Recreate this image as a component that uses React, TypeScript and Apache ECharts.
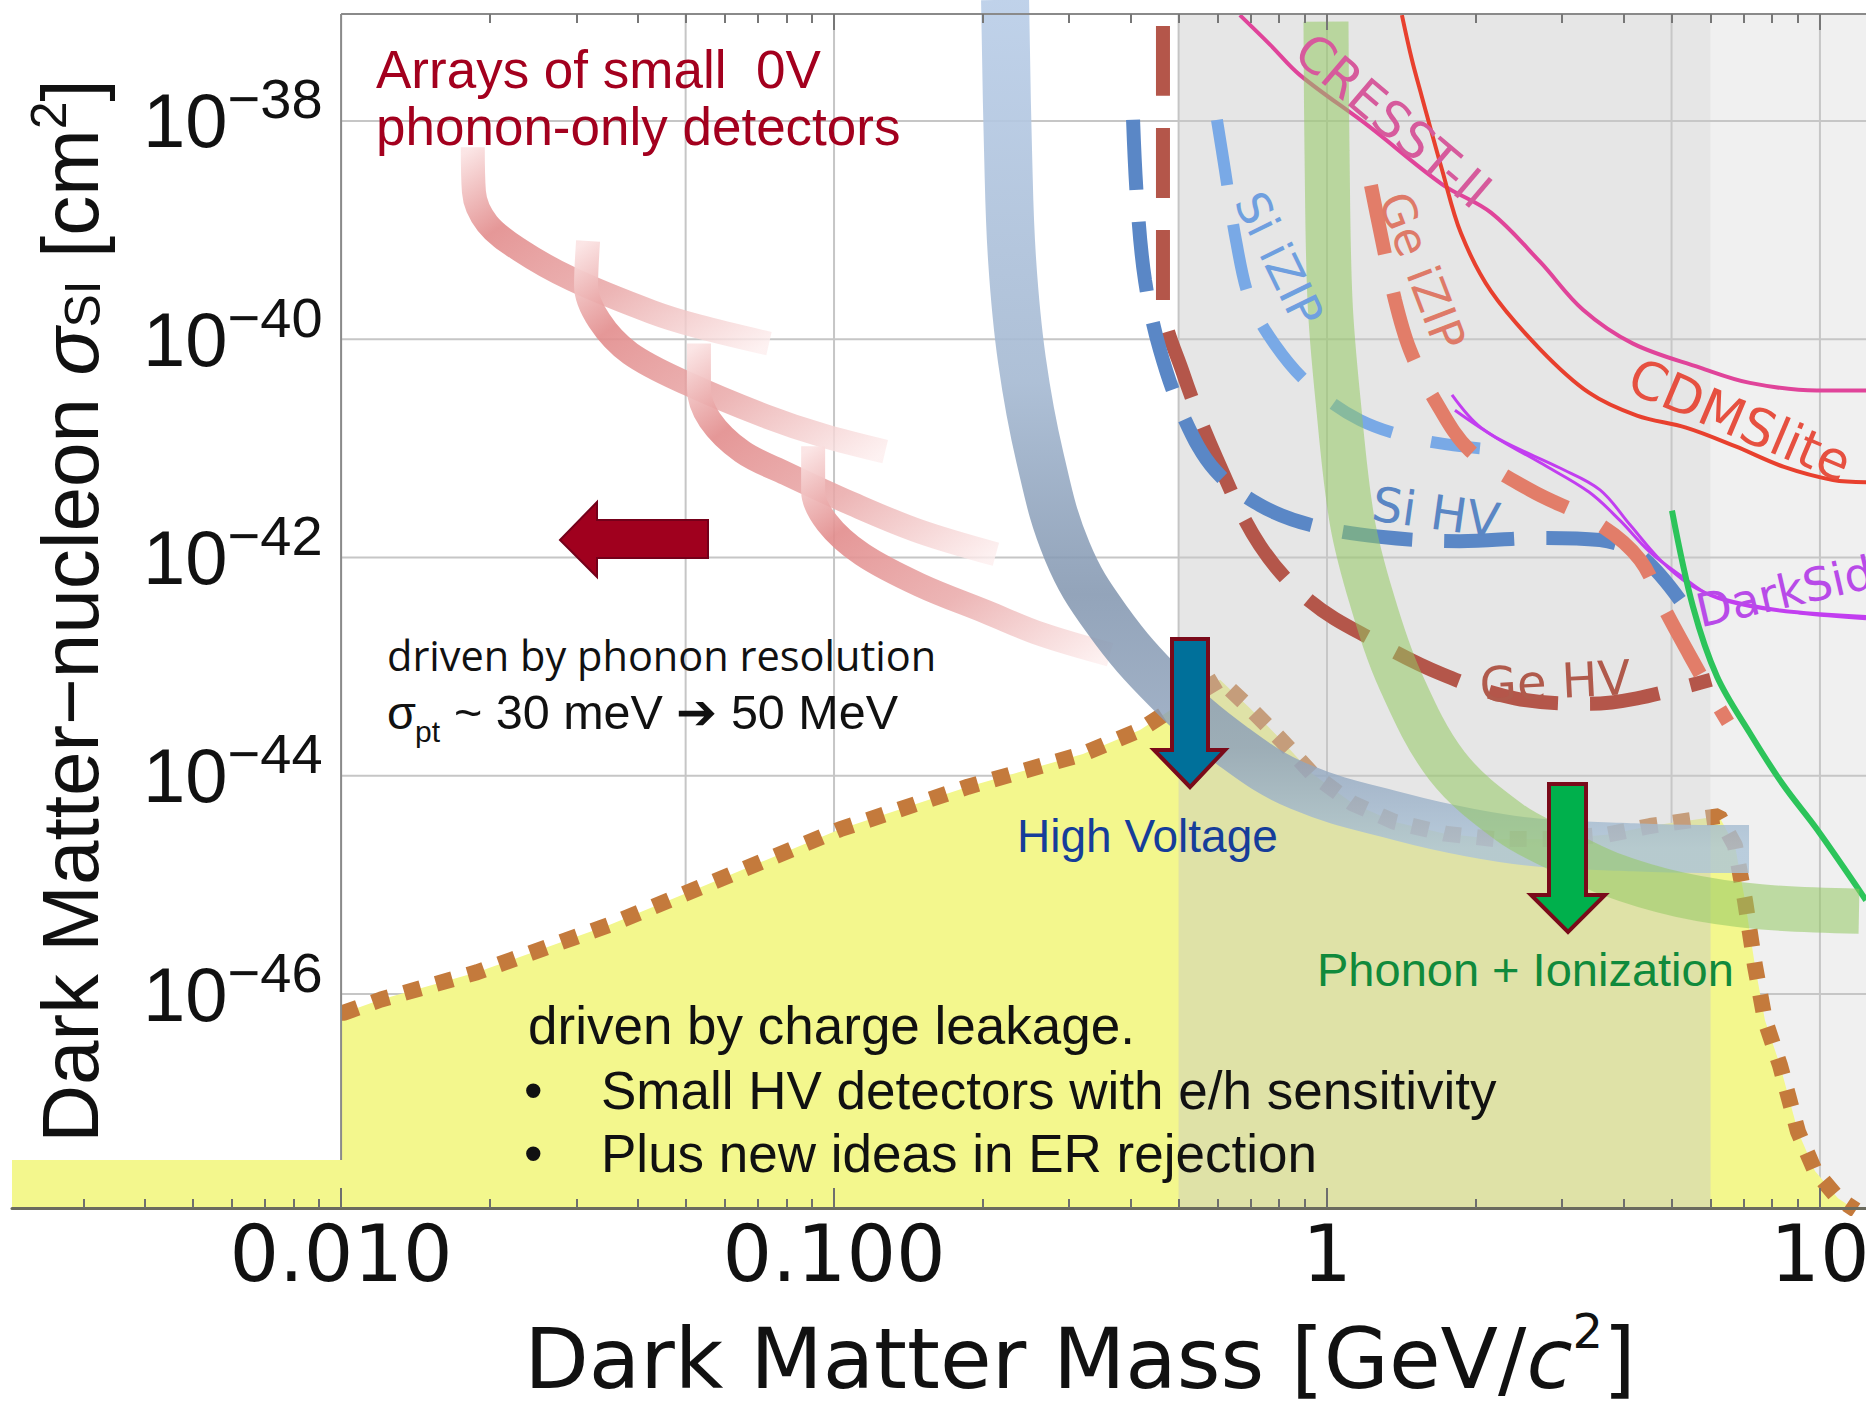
import React, { useEffect, useRef } from "react";
import * as echarts from "echarts";

// ---------------- axis extents ----------------
const MASS_RANGE_GEV = [0.00215, 12.4];
const LOG_SIGMA_RANGE = [-47.96, -37.02];

// ---------------- ticks, labels, grid ----------------
const X_MAJOR_TICKS = [0.01, 0.1, 1, 10];
const X_TICK_LABELS = ["0.010", "0.100", "1", "10"];
const X_MINOR_TICKS = [
  0.003, 0.004, 0.005, 0.006, 0.007, 0.008, 0.009,
  0.02, 0.03, 0.04, 0.05, 0.06, 0.07, 0.08, 0.09,
  0.2, 0.3, 0.4, 0.5, 0.6, 0.7, 0.8, 0.9,
  2, 3, 4, 5, 6, 7, 8, 9,
];
const Y_LABEL_EXPONENTS = [-46, -44, -42, -40, -38];
const GRID_MASS = [0.01, 0.05, 0.1, 0.5, 1, 5, 10];
const GRID_EXPONENTS = [-46, -44, -42, -40, -38];

// shaded mass ranges (GeV)
const SHADE_DARK = [0.5, 6];
const SHADE_LIGHT = [6, 12.4];
// slide label box that hides the plot left of 0.01 GeV
const MASK_MASS_EDGE = 0.01;
const MASK_LOG_SIGMA_BOTTOM = -47.52;

// ---------------- curves: [mass GeV, log10 sigma cm^2] ----------------
const PINK_A = [[0.0185, -38.24], [0.0186, -38.65], [0.0198, -38.94], [0.023, -39.18], [0.0294, -39.45], [0.0427, -39.75], [0.0528, -39.88], [0.0738, -40.04]];
const PINK_B = [[0.0317, -39.1], [0.0314, -39.51], [0.0334, -39.83], [0.0386, -40.13], [0.0506, -40.41], [0.0721, -40.7], [0.0946, -40.88], [0.127, -41.03]];
const PINK_C = [[0.0532, -40.04], [0.0532, -40.45], [0.056, -40.74], [0.0651, -41.03], [0.0799, -41.23], [0.109, -41.51], [0.149, -41.76], [0.213, -41.97]];
const PINK_D = [[0.0907, -40.98], [0.0907, -41.39], [0.0968, -41.68], [0.114, -41.97], [0.149, -42.25], [0.204, -42.5], [0.262, -42.7], [0.363, -42.89]];

const HIGH_VOLTAGE = [[0.2223, -36.89], [0.2254, -38.27], [0.2297, -39.27], [0.2405, -40.19], [0.2618, -41.09], [0.297, -41.94], [0.3579, -42.57], [0.4737, -43.21], [0.6444, -43.73], [0.8816, -44.1], [1.419, -44.38], [1.95, -44.52], [2.654, -44.61], [3.929, -44.65], [5.71, -44.67], [7.18, -44.67]];
const PHONON_IONIZATION = [[0.9953, -37.09], [1.0, -38.27], [1.014, -39.64], [1.053, -40.56], [1.124, -41.66], [1.234, -42.39], [1.406, -43.12], [1.752, -43.91], [2.351, -44.43], [2.969, -44.68], [3.75, -44.9], [5.2, -45.09], [7.556, -45.2], [12.0, -45.24]];

const CHARGE_LEAKAGE_LIMIT = [[0.00215, -46.33], [0.01014, -46.17], [0.01205, -46.05], [0.01887, -45.8], [0.0353, -45.36], [0.055, -45.0], [0.1028, -44.49], [0.187, -44.1], [0.3199, -43.8], [0.4175, -43.58], [0.5032, -43.34], [0.6067, -43.12], [0.6979, -43.38], [0.8067, -43.67], [0.9324, -43.98], [1.124, -44.25], [1.367, -44.42], [1.735, -44.53], [2.192, -44.58], [2.834, -44.58], [3.698, -44.54], [4.521, -44.46], [6.24, -44.37], [6.725, -44.64], [7.045, -45.14], [7.382, -45.74], [7.735, -46.24], [8.295, -46.65], [9.024, -47.26], [9.77, -47.62], [10.88, -47.87], [11.83, -47.98]];

const GE_HV = [[0.4648, -37.13], [0.4648, -39.64], [0.5104, -40.31], [0.5981, -41.1], [0.7312, -41.89], [0.9236, -42.4], [1.245, -42.76], [1.712, -43.07], [2.406, -43.29], [3.4, -43.34], [4.254, -43.29], [6.009, -43.12]];
const SI_HV = [[0.4042, -37.99], [0.4118, -38.72], [0.4274, -39.46], [0.4584, -40.1], [0.5152, -40.74], [0.5925, -41.2], [0.7312, -41.52], [0.9236, -41.7], [1.281, -41.81], [1.861, -41.85], [2.704, -41.82], [3.579, -41.84], [4.314, -41.98], [5.2, -42.39]];
const SI_IZIP = [[0.5981, -37.99], [0.6209, -38.45], [0.6534, -39.09], [0.6979, -39.64], [0.7843, -40.05], [0.9236, -40.42], [1.167, -40.74], [1.544, -40.92], [2.043, -41.0]];
const GE_IZIP = [[1.228, -38.59], [1.281, -39.0], [1.374, -39.64], [1.474, -40.1], [1.656, -40.56], [1.95, -41.02], [2.581, -41.38], [3.579, -41.7], [4.314, -42.02], [4.85, -42.48], [5.449, -42.9], [6.124, -43.31], [6.508, -43.51]];
const CRESST_II = [[0.6657, -37.03], [0.7663, -37.3], [0.8816, -37.58], [1.217, -38.05], [1.712, -38.58], [2.151, -38.84], [2.704, -39.29], [3.306, -39.73], [4.176, -40.04], [5.71, -40.26], [7.211, -40.4], [9.861, -40.47], [12.4, -40.47]];
const CDMSLITE = [[1.419, -37.03], [1.487, -37.44], [1.558, -37.78], [1.712, -38.45], [1.87, -39.03], [2.151, -39.56], [2.704, -40.09], [3.4, -40.49], [4.254, -40.7], [5.35, -40.81], [6.725, -40.98], [8.453, -41.17], [10.63, -41.29], [12.4, -41.31]];
const DARKSIDE_A = [[1.793, -40.51], [2.053, -40.81], [2.704, -41.13], [3.4, -41.4], [3.929, -41.66], [4.521, -41.95], [5.274, -42.18], [6.009, -42.35], [7.211, -42.45], [9.108, -42.51], [12.4, -42.56]];
const DARKSIDE_B = [[1.818, -40.65], [2.243, -40.92], [2.969, -41.18], [3.579, -41.38], [4.118, -41.7], [4.737, -42.02], [5.449, -42.25], [6.269, -42.37], [8.295, -42.48], [12.4, -42.54]];
const GREEN_THIN = [[5.01, -41.57], [5.526, -42.45], [6.182, -43.09], [7.211, -43.61], [8.413, -44.08], [9.861, -44.49], [12.4, -45.14]];

// ---------------- helpers ----------------
const lx = (m: number) => Math.log10(m);
const toXY = (pts: number[][]) => pts.map(([m, s]) => [lx(m), s]);
const X_MIN = lx(MASS_RANGE_GEV[0]);
const X_MAX = lx(MASS_RANGE_GEV[1]);

function lineSeries(name: string, pts: number[][], lineStyle: any, z: number, extra: any = {}) {
  return {
    type: "line",
    name,
    data: toXY(pts),
    xAxisIndex: 0,
    yAxisIndex: 0,
    showSymbol: false,
    symbol: "none",
    smooth: 0.35,
    silent: true,
    z,
    lineStyle,
    ...extra,
  };
}

function rectSeries(name: string, m0: number, m1: number, s0: number, s1: number, fill: string, z: number, edgeLine = false) {
  return {
    type: "custom",
    name,
    z,
    silent: true,
    xAxisIndex: 0,
    yAxisIndex: 0,
    data: [[lx(m0), s0, lx(m1), s1]],
    encode: { x: [0, 2], y: [1, 3] },
    renderItem: (_p: any, api: any) => {
      const a = api.coord([api.value(0), api.value(3)]);
      const b = api.coord([api.value(2), api.value(1)]);
      const children: any[] = [
        { type: "rect", shape: { x: a[0], y: a[1], width: b[0] - a[0], height: b[1] - a[1] }, style: { fill } },
      ];
      if (edgeLine) {
        const top = api.coord([api.value(2), LOG_SIGMA_RANGE[1]]);
        children.push({
          type: "line",
          shape: { x1: b[0], y1: top[1], x2: b[0], y2: b[1] },
          style: { stroke: "#8a8a8a", lineWidth: 2 },
        });
      }
      return { type: "group", children };
    },
  };
}

function gridSeries() {
  const data: number[][] = [];
  GRID_MASS.forEach((m) => data.push([lx(m), LOG_SIGMA_RANGE[0], 0]));
  GRID_EXPONENTS.forEach((e) => data.push([lx(GRID_MASS[0]), e, 1]));
  return {
    type: "custom",
    name: "grid",
    z: 2,
    silent: true,
    data,
    encode: { x: 0, y: 1 },
    renderItem: (_p: any, api: any) => {
      const vertical = api.value(2) === 0;
      const p0 = api.coord([api.value(0), api.value(1)]);
      const p1 = vertical
        ? api.coord([api.value(0), LOG_SIGMA_RANGE[1]])
        : api.coord([X_MAX, api.value(1)]);
      return {
        type: "line",
        shape: { x1: p0[0], y1: p0[1], x2: p1[0], y2: p1[1] },
        style: { stroke: "#c6c6c6", lineWidth: 2 },
      };
    },
  };
}

const pinkGradient = () =>
  new echarts.graphic.LinearGradient(0, 0, 1, 1, [
    { offset: 0, color: "rgba(251,228,228,0.95)" },
    { offset: 0.25, color: "rgba(226,140,140,0.9)" },
    { offset: 0.6, color: "rgba(233,168,168,0.85)" },
    { offset: 1, color: "rgba(253,238,238,0.8)" },
  ]);

const blueGradient = () =>
  new echarts.graphic.LinearGradient(0, 0, 0, 1, [
    { offset: 0, color: "rgba(186,206,232,0.92)" },
    { offset: 0.45, color: "rgba(165,185,210,0.9)" },
    { offset: 0.7, color: "rgba(128,148,174,0.85)" },
    { offset: 0.88, color: "rgba(140,160,186,0.8)" },
    { offset: 1, color: "rgba(172,196,216,0.8)" },
  ]);

// ---------------- graphics (annotations) ----------------
function text(t: string, x: number, y: number, size: number, color: string, family: string, extra: any = {}, rotationDeg = 0, align = "left") {
  return {
    type: "text",
    x,
    y,
    z: 100,
    silent: true,
    rotation: (rotationDeg * Math.PI) / 180,
    style: {
      text: t,
      fill: color,
      fontSize: size,
      fontFamily: family,
      align,
      textAlign: align,
      verticalAlign: "middle",
      textVerticalAlign: "middle",
      ...extra,
    },
  };
}

function arrow(points: number[][], fill: string, stroke: string, lw: number) {
  return { type: "polygon", z: 100, silent: true, shape: { points }, style: { fill, stroke, lineWidth: lw } };
}

function buildOption() {
  const xBase = { type: "value", min: X_MIN, max: X_MAX, splitLine: { show: false }, z: 8 };
  const major = X_MAJOR_TICKS.map(lx);
  const minor = X_MINOR_TICKS.map(lx);
  const labelFor = (v: number) => {
    const i = X_MAJOR_TICKS.findIndex((m) => Math.abs(lx(m) - v) < 1e-6);
    return i >= 0 ? X_TICK_LABELS[i] : "";
  };
  const AR = "Liberation Sans";
  const DJ = "DejaVu Sans";

  return {
    animation: false,
    backgroundColor: "#ffffff",
    grid: { left: 12, top: 14, width: 1854, height: 1194, containLabel: false, outerBoundsMode: "none", show: false },
    xAxis: [
      {
        ...xBase,
        position: "bottom",
        axisLine: { show: true, lineStyle: { color: "#6a6a5e", width: 3 } },
        axisTick: { show: true, inside: true, length: 20, customValues: major, lineStyle: { color: "#6e6e6e", width: 2 } },
        axisLabel: {
          show: true,
          customValues: major,
          formatter: (v: number) => labelFor(v),
          fontSize: 78,
          fontFamily: DJ,
          color: "#111",
          margin: 7,
        },
        name: "{n|Dark Matter Mass [GeV/}{i|c}{sup|2}{n|]}",
        nameLocation: "middle",
        nameGap: 99,
        nameTextStyle: {
          padding: [0, 0, 0, 282],
          fontSize: 84,
          fontFamily: DJ,
          color: "#111",
          rich: {
            n: { fontSize: 84, fontFamily: DJ, color: "#111" },
            i: { fontSize: 84, fontFamily: DJ, fontStyle: "italic", color: "#111" },
            sup: { fontSize: 48, fontFamily: DJ, color: "#111", padding: [0, 0, 56, 0] },
          },
        },
      },
      {
        ...xBase,
        position: "bottom",
        axisLine: { show: false },
        axisTick: { show: true, inside: true, length: 9, customValues: minor, lineStyle: { color: "#6e6e6e", width: 2 } },
        axisLabel: { show: false },
      },
      {
        ...xBase,
        position: "top",
        axisLine: { show: true, lineStyle: { color: "#8a8a8a", width: 2 } },
        axisTick: { show: true, inside: true, length: 16, customValues: major, lineStyle: { color: "#777", width: 2 } },
        axisLabel: { show: false },
      },
      {
        ...xBase,
        position: "top",
        axisLine: { show: false },
        axisTick: { show: true, inside: true, length: 9, customValues: minor, lineStyle: { color: "#777", width: 2 } },
        axisLabel: { show: false },
      },
    ],
    yAxis: {
      type: "value",
      min: LOG_SIGMA_RANGE[0],
      max: LOG_SIGMA_RANGE[1],
      position: "left",
      z: 10,
      axisLine: { show: false },
      axisTick: { show: false },
      splitLine: { show: false },
      axisLabel: {
        inside: true,
        margin: 131,
        customValues: Y_LABEL_EXPONENTS,
        formatter: (v: number) => `{b|10}{s|\u2212${Math.abs(Math.round(v))}}`,
        rich: {
          b: { fontSize: 76, fontFamily: AR, color: "#111" },
          s: { fontSize: 56, fontFamily: AR, color: "#111", padding: [0, 0, 44, 0] },
        },
      },
      name: "{n|Dark Matter\u2212nucleon }{i|\u03c3}{sub|SI}{n| [cm}{sup|2}{n|]}",
      nameLocation: "middle",
      nameRotate: 90,
      nameGap: -104,
      nameTextStyle: {
        fontSize: 80,
        fontFamily: AR,
        color: "#111",
        rich: {
          n: { fontSize: 80, fontFamily: AR, color: "#111" },
          i: { fontSize: 80, fontFamily: AR, fontStyle: "italic", color: "#111" },
          sub: { fontSize: 50, fontFamily: AR, color: "#111", padding: [26, 0, 0, 0] },
          sup: { fontSize: 50, fontFamily: AR, color: "#111", padding: [0, 0, 42, 0] },
        },
      },
    },
    series: [
      rectSeries("beyond 6 GeV", SHADE_LIGHT[0], SHADE_LIGHT[1], LOG_SIGMA_RANGE[0], LOG_SIGMA_RANGE[1], "#f0f0f0", 1),
      gridSeries(),
      lineSeries("charge leakage limit", CHARGE_LEAKAGE_LIMIT, { color: "#c47a3c", width: 16, type: [17, 16], cap: "butt" }, 3, {
        smooth: false,
        areaStyle: { color: "#f3f78d", origin: "start", opacity: 1 },
      }),
      rectSeries("0.5-6 GeV", SHADE_DARK[0], SHADE_DARK[1], LOG_SIGMA_RANGE[0], LOG_SIGMA_RANGE[1], "rgba(200,200,200,0.45)", 4),
      lineSeries("Ge HV", GE_HV, { color: "#b4564a", width: 14, type: [70, 32], cap: "butt" }, 5),
      lineSeries("Si HV", SI_HV, { color: "#5a87c6", width: 14, type: [70, 32], cap: "butt" }, 5),
      lineSeries("Si iZIP", SI_IZIP, { color: "#79a9e6", width: 12, type: [66, 40], cap: "butt" }, 5),
      lineSeries("Ge iZIP", GE_IZIP, { color: "#e27d69", width: 14, type: [70, 40], cap: "butt" }, 5),
      lineSeries("CRESST-II", CRESST_II, { color: "#e0449a", width: 4 }, 5),
      lineSeries("CDMSlite", CDMSLITE, { color: "#e8402e", width: 4 }, 5),
      lineSeries("DarkSide A", DARKSIDE_A, { color: "#c23ef0", width: 3 }, 5),
      lineSeries("DarkSide B", DARKSIDE_B, { color: "#c23ef0", width: 3 }, 5),
      lineSeries("LUX-like", GREEN_THIN, { color: "#2cc45a", width: 6 }, 5),
      lineSeries("0V array 1", PINK_A, { color: pinkGradient(), width: 24, cap: "butt" }, 6),
      lineSeries("0V array 2", PINK_B, { color: pinkGradient(), width: 24, cap: "butt" }, 6),
      lineSeries("0V array 3", PINK_C, { color: pinkGradient(), width: 24, cap: "butt" }, 6),
      lineSeries("0V array 4", PINK_D, { color: pinkGradient(), width: 24, cap: "butt" }, 6),
      lineSeries("High Voltage", HIGH_VOLTAGE, { color: blueGradient(), width: 48, cap: "butt" }, 7, { clip: false, smooth: 0.4 }),
      lineSeries("Phonon + Ionization", PHONON_IONIZATION, { color: "rgba(148,200,98,0.55)", width: 45, cap: "butt" }, 7),
      rectSeries("label box", MASS_RANGE_GEV[0] * 0.9, MASK_MASS_EDGE, MASK_LOG_SIGMA_BOTTOM, LOG_SIGMA_RANGE[1] + 0.13, "#ffffff", 9, true),
    ],
    graphic: {
      elements: [
        text("Arrays of small  0V", 376, 69, 53, "#a3001e", AR),
        text("phonon-only detectors", 376, 126, 53, "#a3001e", AR),
        text("driven by phonon resolution", 387, 655, 41.5, "#111", "Open Sans"),
        text("\u03c3", 387, 712, 47, "#111", AR),
        text("pt", 415, 731, 30, "#111", AR),
        text("~ 30 meV \u2794 50 MeV", 454, 712, 48.5, "#111", AR),
        text("High Voltage", 1017, 836, 46, "#163d9a", AR),
        text("Phonon + Ionization", 1317, 969, 47, "#108a3c", AR),
        text("driven by charge leakage.", 528, 1025, 53, "#111", AR),
        text("\u2022", 524, 1090, 53, "#111", AR),
        text("Small HV detectors with e/h sensitivity", 601, 1090, 53, "#111", AR),
        text("\u2022", 524, 1153, 53, "#111", AR),
        text("Plus new ideas in ER rejection", 601, 1153, 53, "#111", AR),
        text("CRESST-II", 1393, 121, 50, "#d65a9c", DJ, {}, -40.4, "center"),
        text("Ge iZIP", 1422, 271, 46, "#de7a68", DJ, {}, -69, "center"),
        text("Si iZIP", 1279, 259, 46, "#6f9fdf", DJ, {}, -64, "center"),
        text("CDMSlite", 1740, 420, 52, "#e65040", DJ, {}, -23, "center"),
        text("Si HV", 1436, 512, 48, "#5a86c4", DJ, {}, -8, "center"),
        text("Ge HV", 1555, 681, 48, "#b05a4c", DJ, {}, 3, "center"),
        text("DarkSide", 1697, 612, 46, "#b84ae8", DJ, {}, 13, "left"),
        arrow([[560, 540], [597, 502], [597, 520], [708, 520], [708, 558], [597, 558], [597, 577]], "#a0001e", "#74001a", 2),
        arrow([[1172, 639], [1208, 639], [1208, 750], [1225, 750], [1190, 787], [1154, 750], [1172, 750]], "#00709a", "#7a0a1a", 4),
        arrow([[1549, 784], [1586, 784], [1586, 895], [1605, 895], [1568, 932], [1531, 895], [1549, 895]], "#00b04c", "#7a0a1a", 4),
      ],
    },
  };
}

export default function App() {
  const ref = useRef<HTMLDivElement>(null);
  useEffect(() => {
    if (!ref.current) return;
    const chart = echarts.init(ref.current, null, { renderer: "svg" });
    chart.setOption(buildOption() as any);
    return () => chart.dispose();
  }, []);
  return (
    <div
      ref={ref}
      style={{ position: "absolute", left: 0, top: 0, width: 1866, height: 1410, background: "#ffffff" }}
    />
  );
}
